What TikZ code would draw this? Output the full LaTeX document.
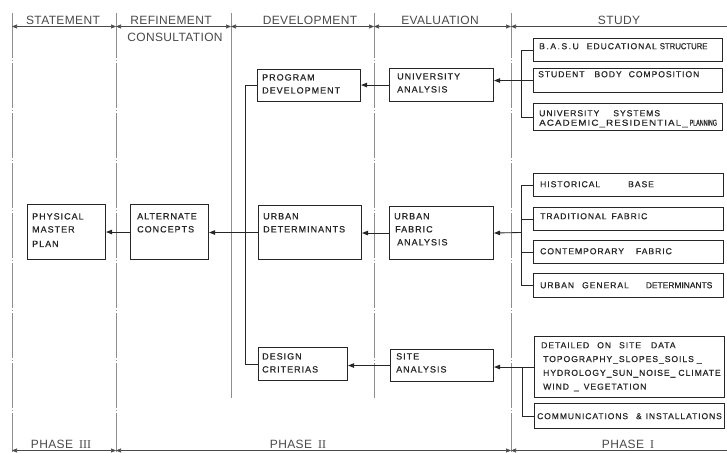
\documentclass[tikz,border=0pt]{standalone}
\usepackage{fontspec}
\usepackage{graphicx}
\setmainfont{Liberation Sans}
\newfontfamily\lsp[LetterSpace=11,FakeBold=0.6]{Liberation Sans}
\newfontfamily\nsp[FakeBold=0.6]{Liberation Sans}
\newfontfamily\hsp[LetterSpace=3]{Liberation Sans}
\newfontfamily\rmn{Liberation Serif}
\usetikzlibrary{arrows.meta,calc}
\definecolor{ink}{HTML}{262626}
\definecolor{hd}{HTML}{4A4A4A}
\definecolor{dv}{HTML}{8E8E8E}
\newcommand\hs[1]{\hspace*{#1pt}}
\newcommand\cond[2]{\scalebox{#1}[1]{#2}}
\newcommand\bx[5]{\node[box, minimum width=#4, minimum height=#5] (#1) at (#2,#3) {};}
\newcommand\tx[4]{\node[txt] (#1) at (#2,#3) {#4};}
\newcommand\ts[4]{\node[txts] (#1) at (#2,#3) {#4};}
\begin{document}
\begin{tikzpicture}[x=1pt,y=-1pt,
  box/.style={draw=ink, line width=1.05pt, inner sep=0pt, anchor=north west},
  txt/.style={text=ink, font=\lsp\fontsize{9}{13}\selectfont, align=left, inner sep=0pt, anchor=north west},
  txts/.style={text=ink, font=\lsp\fontsize{8.6}{13.8}\selectfont, align=left, inner sep=0pt, anchor=north west},
  conn/.style={draw=ink, line width=0.85pt},
  arr/.style={conn, -{Triangle[length=6pt,width=4.5pt]}},
  hline/.style={draw=hd, line width=0.6pt},
  tip/.tip={Triangle[length=5pt,width=4pt]},
  hdr/.style={text=hd, font=\hsp\fontsize{12}{14}\selectfont, inner sep=0pt, anchor=base},
  divider/.style={draw=dv, line width=0.7pt, dash pattern=on 45pt off 2pt on 1pt off 2pt},
  soliddiv/.style={draw=dv, line width=0.7pt}]
\useasboundingbox[fill=white] (0,0) rectangle (727,452);

% column dividers
\draw[divider] (12,13) -- (12,452);
\draw[divider] (116,13) -- (116,452);
\draw[soliddiv] (231,13) -- (231,398);
\draw[divider] (374,13) -- (374,398);
\draw[divider] (511,13) -- (511,452);

% header line
\coordinate (h0) at (12,26.5);
\coordinate (h1) at (116,26.5);
\coordinate (h2) at (231,26.5);
\coordinate (h3) at (374,26.5);
\coordinate (h4) at (511,26.5);
\coordinate (h5) at (727,26.5);
\draw[hline, tip-tip] (h0) -- (h1);
\draw[hline, tip-tip] (h1) -- (h2);
\draw[hline, tip-tip] (h2) -- (h3);
\draw[hline, tip-tip] (h3) -- (h4);
\draw[hline, tip-] (h4) -- (h5);
\node[hdr] (hst) at (63,25) {STATEMENT};
\node[hdr] (hre) at (171,25) {REFINEMENT};
\node[hdr] (hco) at (175,41.5) {CONSULTATION};
\node[hdr] (hde) at (310,25) {DEVELOPMENT};
\node[hdr] (hev) at (440,25) {EVALUATION};
\node[hdr] (hsu) at (619,25) {STUDY};

% footer line
\coordinate (f0) at (12,450.5);
\coordinate (f1) at (116,450.5);
\coordinate (f4) at (511,450.5);
\coordinate (f5) at (727,450.5);
\draw[hline, tip-tip] (f0) -- (f1);
\draw[hline, tip-tip] (f1) -- (f4);
\draw[hline, tip-] (f4) -- (f5);
\node[hdr] (p3) at (61,448) {PHASE\hs{6}{\rmn III}};
\node[hdr] (p2) at (298,448) {PHASE\hs{6}{\rmn II}};
\node[hdr] (p1) at (628,448) {PHASE\hs{6}{\rmn I}};

% boxes
\bx{pmp}{27}{204}{78}{55}
\bx{ac}{130}{204}{78}{55}
\bx{pd}{257}{69}{103}{32}
\bx{ud}{258}{205}{103}{54}
\bx{dc}{258}{347}{89}{33}
\bx{ua}{389}{68}{104}{33}
\bx{ufa}{389}{206}{104}{53}
\bx{sa}{390}{349}{103}{32}
\bx{basu}{533}{38}{189}{23}
\bx{sbc}{533}{68}{189}{24}
\bx{usys}{533}{103}{189}{27}
\bx{hb}{533}{173}{190}{23}
\bx{tf}{533}{207}{190}{23}
\bx{cf}{533}{240}{190}{23}
\bx{ugd}{533}{273}{190}{24}
\bx{det}{534}{336}{190}{61}
\bx{comm}{534}{403}{190}{25}

% box texts
\tx{pmpt}{32}{213}{PHYSICAL\\MASTER\\[1.5pt]PLAN}
\tx{act}{137}{213}{ALTERNATE\\CONCEPTS}
\tx{pdt}{262}{74}{PROGRAM\\DEVELOPMENT}
\tx{udt}{263}{213}{URBAN\\DETERMINANTS}
\tx{dct}{262}{353}{DESIGN\\CRITERIAS}
\tx{uat}{397}{73}{UNIVERSITY\\ANALYSIS}
\tx{ufat}{394}{213}{URBAN\\\hs{1}FABRIC\\\hs{3}ANALYSIS}
\tx{sat}{396}{353}{SITE\\ANALYSIS}

\ts{basut}{539}{43}{B\hs{1.5}.\hs{1.5}A\hs{1.5}.\hs{1.5}S\hs{1.5}.\hs{1.5}U\hs{8}EDUCATIONAL\hs{3}{\nsp\cond{0.9}{STRUCTURE}}}
\ts{sbct}{538}{71}{STUDENT\hs{10}BODY\hs{7}COMPOSITION}
\node[txts, font=\lsp\fontsize{8.6}{9.5}\selectfont] (usyst) at (539,110) {UNIVERSITY\hs{14}SYSTEMS\\\cond{1.14}{ACADEMIC\_RESIDENTIAL\_}\hs{2}{\nsp\cond{0.62}{PLANNING}}};
\ts{hbt}{540}{181}{HISTORICAL\hs{28}BASE}
\ts{tft}{540}{213}{TRADITIONAL\hs{5}FABRIC}
\ts{cft}{540}{248}{CONTEMPORARY\hs{12}FABRIC}
\ts{ugdt}{540}{282}{URBAN\hs{8}GENERAL\hs{17}{\nsp\cond{0.98}{DETERMINANTS}}}
\ts{dett}{541}{342}{DETAILED\hs{8}ON\hs{8}SITE\hs{10}DATA\\\hs{2}TOPOGRAPHY\_SLOPES\_SOILS\hs{3}\_\\\hs{2}HYDROLOGY\_SUN\_NOISE\_\hs{3}CLIMATE\\\hs{2}WIND\hs{5}\_\hs{5}VEGETATION}
\node[txts, font=\lsp\fontsize{8.5}{9}\selectfont] (commt) at (537,413) {COMMUNICATIONS\hs{8}\&\hs{4}INSTALLATIONS};

% study brackets
\draw[conn] (basu.west) -- ++(-12,0) |- (usys.west);
\draw[arr] (sbc.west) -- (sbc.west -| ua.east);
\draw[conn] (hb.west) -- ++(-12,0) |- (ugd.west);
\draw[conn] (tf.west) -- ++(-12,0);
\draw[conn] (cf.west) -- ++(-12,0);
\coordinate (b2) at (521,232.5);
\draw[arr] (b2) -- (ufa.east);
\draw[conn] (det.west) -- ++(-12,0) |- (comm.west);
\draw[arr] (det.west) -- (det.west -| sa.east);

% development links
\draw[arr] (ua.west) -- (ua.west -| pd.east);
\draw[arr] (ufa.west) -- (ufa.west -| ud.east);
\draw[arr] (sa.west) -- (sa.west -| dc.east);
\draw[conn] (pd.west) -- ++(-12,0) |- (dc.west);
\draw[arr] (ud.west) -- (ud.west -| ac.east);
\draw[arr] (ac.west) -- (ac.west -| pmp.east);
\end{tikzpicture}
\end{document}
